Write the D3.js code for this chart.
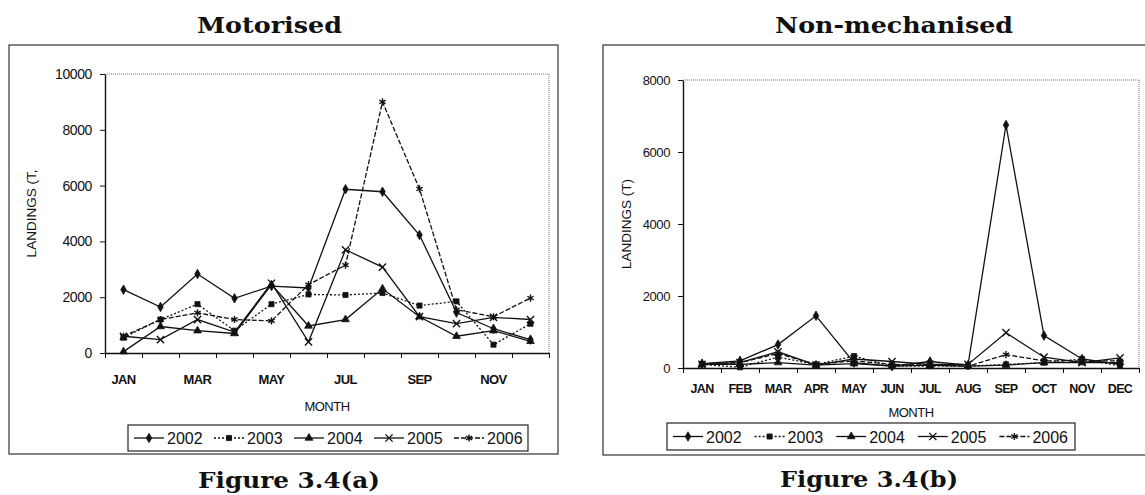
<!DOCTYPE html>
<html>
<head>
<meta charset="utf-8">
<script src="https://cdn.jsdelivr.net/npm/d3@7"></script>
<style>
  html, body { margin: 0; padding: 0; background: #fff; }
  svg { display: block; }
  text { fill: #111; }
</style>
</head>
<body>
<svg id="chart" width="1145" height="495"></svg>
<script>
// -------------------------------------------------------------------------
// Data
const months = ['JAN', 'FEB', 'MAR', 'APR', 'MAY', 'JUN', 'JUL', 'AUG', 'SEP', 'OCT', 'NOV', 'DEC'];
const years = ['2002', '2003', '2004', '2005', '2006'];

// Motorised landings (T)
const motor2002 = [2270, 1650, 2830, 1960, 2400, 2330, 5870, 5780, 4230, 1450, 870, 480];
const motor2003 = [550, 1200, 1750, 800, 1750, 2100, 2080, 2150, 1700, 1850, 300, 1050];
const motor2004 = [50, 950, 800, 700, 2450, 970, 1200, 2300, 1300, 600, 800, 420];
const motor2005 = [600, 480, 1200, 750, 2500, 400, 3700, 3080, 1300, 1050, 1280, 1200];
const motor2006 = [600, 1200, 1440, 1200, 1150, 2450, 3150, 9000, 5880, 1550, 1300, 1970];

// Non-mechanised landings (T)
const nonMech2002 = [120, 200, 650, 1450, 150, 50, 180, 80, 6750, 900, 250, 100];
const nonMech2003 = [100, 20, 300, 100, 330, 50, 50, 50, 100, 150, 250, 60];
const nonMech2004 = [100, 100, 150, 80, 120, 50, 80, 50, 80, 150, 150, 150];
const nonMech2005 = [100, 150, 450, 80, 250, 180, 100, 100, 980, 300, 150, 280];
const nonMech2006 = [120, 150, 400, 100, 200, 100, 80, 50, 370, 200, 200, 200];

const motorTicks = [0, 2000, 4000, 6000, 8000, 10000];
const nonMechTicks = [0, 2000, 4000, 6000, 8000];

// -------------------------------------------------------------------------
// Series styles (marker + dash)
const seriesStyle = {
  '2002': { symbol: d3.symbolDiamond, size: 26, dash: null, fill: true },
  '2003': { symbol: d3.symbolSquare, size: 26, dash: '2,2', fill: true },
  '2004': { symbol: d3.symbolTriangle, size: 26, dash: null, fill: true },
  '2005': { symbol: d3.symbolTimes, size: 36, dash: null, fill: false },
  '2006': { symbol: d3.symbolAsterisk, size: 36, dash: '5,2', fill: false }
};

const svg = d3.select('#chart');
const sansFont = '"Liberation Sans", Arial, sans-serif';
const serifFont = '"DejaVu Serif", serif';

function drawMarker(g, year, cx, cy) {
  let style = seriesStyle[year];
  g.append('path')
    .attr('d', d3.symbol().type(style.symbol).size(style.size)())
    .attr('transform', `translate(${cx},${cy})`)
    .attr('fill', style.fill ? '#111' : 'none')
    .attr('stroke', '#111')
    .attr('stroke-width', style.fill ? 0.8 : 1.4);
}

/**
 * @function drawPanel
 * Draws one framed line chart with its title, axes, legend and caption
 */
function drawPanel(cfg) {
  const g = svg.append('g');

  // frame
  g.append('rect')
    .attr('x', cfg.box.x).attr('y', cfg.box.y)
    .attr('width', cfg.box.w).attr('height', cfg.box.h)
    .attr('fill', 'none').attr('stroke', '#333').attr('stroke-width', 1.2);

  // title + caption
  g.append('text')
    .attr('x', cfg.title.x).attr('y', cfg.title.y)
    .attr('textLength', cfg.title.w).attr('lengthAdjust', 'spacingAndGlyphs')
    .style('font-family', serifFont).style('font-weight', 'bold').style('font-size', '23px')
    .text(cfg.title.text);
  g.append('text')
    .attr('x', cfg.caption.x).attr('y', cfg.caption.y)
    .attr('textLength', cfg.caption.w).attr('lengthAdjust', 'spacingAndGlyphs')
    .style('font-family', serifFont).style('font-weight', 'bold').style('font-size', '22px')
    .text(cfg.caption.text);

  const x = d3.scaleBand().domain(months).range([cfg.plot.x0, cfg.plot.x1]).padding(0);
  const xEdge = d3.scaleLinear().domain([0, months.length]).range([cfg.plot.x0, cfg.plot.x1]);
  const y = d3.scaleLinear().domain([0, cfg.yMax]).range([cfg.plot.y1, cfg.plot.y0]);

  // dotted plot border (top, right)
  g.append('path')
    .attr('d', d3.line()([[cfg.plot.x0, cfg.plot.y0], [cfg.plot.x1, cfg.plot.y0], [cfg.plot.x1, cfg.plot.y1]]))
    .attr('fill', 'none').attr('stroke', '#777').attr('stroke-dasharray', '1,1');

  // y axis
  const yAxis = g.append('g')
    .attr('transform', `translate(${cfg.plot.x0},0)`)
    .call(d3.axisLeft(y).tickValues(cfg.yTicks).tickFormat(d3.format('d'))
      .tickSize(5).tickPadding(8).tickSizeOuter(0));
  yAxis.select('.domain').attr('stroke', '#111').attr('stroke-width', 1.4);
  yAxis.selectAll('.tick line').attr('stroke', '#111');
  yAxis.selectAll('text')
    .style('font-family', sansFont).style('font-size', cfg.tickFont)
    .style('letter-spacing', '-0.4px').attr('fill', '#111');

  // x axis: tick marks at category edges, labels centred on categories
  const xAxis = g.append('g')
    .attr('transform', `translate(0,${cfg.plot.y1})`)
    .call(d3.axisBottom(xEdge).ticks(months.length).tickSize(5).tickFormat('').tickSizeOuter(0));
  xAxis.select('.domain').attr('stroke', '#111').attr('stroke-width', 1.4);
  xAxis.selectAll('.tick line').attr('stroke', '#111');

  g.append('g').selectAll('text')
    .data(months.filter((m, i) => i % cfg.labelStep === 0))
    .enter()
    .append('text')
    .attr('x', d => x(d) + x.bandwidth() / 2)
    .attr('y', cfg.monthY)
    .attr('text-anchor', 'middle')
    .style('font-family', sansFont).style('font-size', cfg.monthFont).style('font-weight', 'bold')
    .style('letter-spacing', '-0.6px')
    .text(d => d);

  g.append('text')
    .attr('x', (cfg.plot.x0 + cfg.plot.x1) / 2).attr('y', cfg.axisTitleY)
    .attr('text-anchor', 'middle')
    .style('font-family', sansFont).style('font-size', '13px').style('letter-spacing', '-0.5px')
    .text('MONTH');

  g.append('text')
    .attr('transform', `translate(${cfg.yTitleX},${(cfg.plot.y0 + cfg.plot.y1) / 2}) rotate(-90)`)
    .attr('text-anchor', 'middle')
    .style('font-family', sansFont).style('font-size', '13.5px')
    .text(cfg.yTitle);

  // series
  const line = d3.line()
    .x((d, i) => x(months[i]) + x.bandwidth() / 2)
    .y(d => y(d));

  const seriesG = g.append('g');
  cfg.series.forEach((values, k) => {
    let year = years[k];
    let style = seriesStyle[year];
    seriesG.append('path')
      .datum(values)
      .attr('d', line)
      .attr('fill', 'none')
      .attr('stroke', '#111')
      .attr('stroke-width', 1.3)
      .attr('stroke-dasharray', style.dash);
    values.forEach((v, i) => {
      drawMarker(seriesG, year, x(months[i]) + x.bandwidth() / 2, y(v));
    });
  });

  // legend
  const lg = g.append('g').attr('transform', `translate(${cfg.legend.x},${cfg.legend.y})`);
  lg.append('rect')
    .attr('width', cfg.legend.w).attr('height', cfg.legend.h)
    .attr('fill', '#fff').attr('stroke', '#222').attr('stroke-width', 1.2);
  const entryW = cfg.legend.w / years.length;
  years.forEach((year, k) => {
    let ex = 6 + k * entryW;
    let ey = cfg.legend.h / 2;
    lg.append('line')
      .attr('x1', ex).attr('x2', ex + 30).attr('y1', ey).attr('y2', ey)
      .attr('stroke', '#111').attr('stroke-width', 1.3)
      .attr('stroke-dasharray', seriesStyle[year].dash);
    drawMarker(lg, year, ex + 15, ey);
    lg.append('text')
      .attr('x', ex + 33).attr('y', ey + 6)
      .style('font-family', sansFont).style('font-size', '16px')
      .text(year);
  });
}

drawPanel({
  box: { x: 9, y: 45, w: 549, h: 409 },
  plot: { x0: 105, x1: 549, y0: 74, y1: 353 },
  title: { text: 'Motorised', x: 197, y: 33, w: 145 },
  caption: { text: 'Figure 3.4(a)', x: 198, y: 488, w: 182 },
  yMax: 10000,
  yTicks: motorTicks,
  tickFont: '14px',
  monthFont: '13px',
  labelStep: 2,
  monthY: 384,
  axisTitleY: 411,
  yTitleX: 36,
  yTitle: 'LANDINGS (T,',
  series: [motor2002, motor2003, motor2004, motor2005, motor2006],
  legend: { x: 128, y: 425, w: 400, h: 26 }
});

drawPanel({
  box: { x: 603, y: 45, w: 545, h: 410 },
  plot: { x0: 683, x1: 1139, y0: 80, y1: 368 },
  title: { text: 'Non-mechanised', x: 775, y: 33, w: 238 },
  caption: { text: 'Figure 3.4(b)', x: 780, y: 487, w: 178 },
  yMax: 8000,
  yTicks: nonMechTicks,
  tickFont: '13px',
  monthFont: '12.5px',
  labelStep: 1,
  monthY: 393,
  axisTitleY: 417,
  yTitleX: 631,
  yTitle: 'LANDINGS (T)',
  series: [nonMech2002, nonMech2003, nonMech2004, nonMech2005, nonMech2006],
  legend: { x: 667, y: 423, w: 408, h: 27 }
});
</script>
</body>
</html>
